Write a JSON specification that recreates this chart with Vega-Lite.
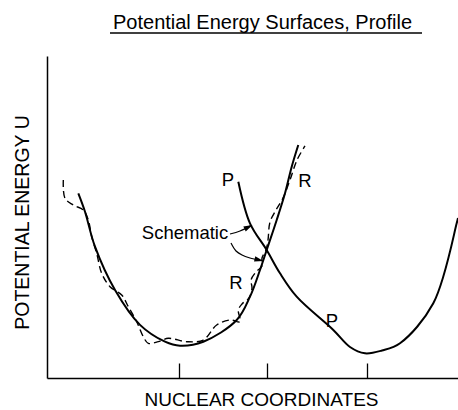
{
  "$schema": "https://vega.github.io/schema/vega-lite/v6.json",
  "width": 411,
  "height": 322,
  "autosize": {"type": "none"},
  "padding": {"left": 47, "top": 56, "right": 0, "bottom": 32},
  "background": "white",
  "title": {
    "text": "Potential Energy Surfaces, Profile",
    "font": "Liberation Sans",
    "fontSize": 20,
    "fontWeight": "normal",
    "color": "black",
    "anchor": "middle",
    "frame": "group",
    "baseline": "alphabetic",
    "offset": 6,
    "dy": 23,
    "dx": 10
  },
  "config": {
    "view": {"stroke": null},
    "axis": {
      "domainColor": "black",
      "domainWidth": 1.5,
      "grid": false,
      "labels": false,
      "titleFont": "Liberation Sans",
      "titleFontWeight": "normal",
      "titleColor": "black"
    }
  },
  "datasets": {
    "curves": [
      {"c": "R", "i": 0, "x": 0.762, "y": 4.589},
      {"c": "R", "i": 1, "x": 0.925, "y": 4.132},
      {"c": "R", "i": 2, "x": 1.168, "y": 3.262},
      {"c": "R", "i": 3, "x": 1.655, "y": 2.186},
      {"c": "R", "i": 4, "x": 2.263, "y": 1.32},
      {"c": "R", "i": 5, "x": 2.871, "y": 0.902},
      {"c": "R", "i": 6, "x": 3.236, "y": 0.803},
      {"c": "R", "i": 7, "x": 3.803, "y": 0.902},
      {"c": "R", "i": 8, "x": 4.616, "y": 1.441},
      {"c": "R", "i": 9, "x": 4.939, "y": 2.02},
      {"c": "R", "i": 10, "x": 5.182, "y": 2.683},
      {"c": "R", "i": 11, "x": 5.345, "y": 3.18},
      {"c": "R", "i": 12, "x": 5.589, "y": 3.925},
      {"c": "R", "i": 13, "x": 5.791, "y": 4.589},
      {"c": "R", "i": 14, "x": 5.954, "y": 5.25},
      {"c": "R", "i": 15, "x": 6.114, "y": 5.789},
      {"c": "P", "i": 0, "x": 4.655, "y": 4.877},
      {"c": "P", "i": 1, "x": 4.939, "y": 3.843},
      {"c": "P", "i": 2, "x": 5.345, "y": 3.18},
      {"c": "P", "i": 3, "x": 5.669, "y": 2.601},
      {"c": "P", "i": 4, "x": 6.075, "y": 2.02},
      {"c": "P", "i": 5, "x": 6.966, "y": 1.193},
      {"c": "P", "i": 6, "x": 7.372, "y": 0.77},
      {"c": "P", "i": 7, "x": 7.737, "y": 0.614},
      {"c": "P", "i": 8, "x": 8.151, "y": 0.683},
      {"c": "P", "i": 9, "x": 8.589, "y": 0.862},
      {"c": "P", "i": 10, "x": 9.399, "y": 1.856},
      {"c": "P", "i": 11, "x": 9.968, "y": 3.843},
      {"c": "P", "i": 12, "x": 10.0, "y": 3.975},
      {"c": "D", "i": 0, "x": 0.397, "y": 4.919},
      {"c": "D", "i": 1, "x": 0.438, "y": 4.464},
      {"c": "D", "i": 2, "x": 0.64, "y": 4.298},
      {"c": "D", "i": 3, "x": 0.883, "y": 4.174},
      {"c": "D", "i": 4, "x": 1.005, "y": 3.925},
      {"c": "D", "i": 5, "x": 1.088, "y": 3.51},
      {"c": "D", "i": 6, "x": 1.209, "y": 3.098},
      {"c": "D", "i": 7, "x": 1.331, "y": 2.601},
      {"c": "D", "i": 8, "x": 1.533, "y": 2.268},
      {"c": "D", "i": 9, "x": 1.818, "y": 2.062},
      {"c": "D", "i": 10, "x": 1.978, "y": 1.772},
      {"c": "D", "i": 11, "x": 2.182, "y": 1.399},
      {"c": "D", "i": 12, "x": 2.343, "y": 1.026},
      {"c": "D", "i": 13, "x": 2.465, "y": 0.862},
      {"c": "D", "i": 14, "x": 2.708, "y": 0.902},
      {"c": "D", "i": 15, "x": 2.951, "y": 0.986},
      {"c": "D", "i": 16, "x": 3.399, "y": 0.902},
      {"c": "D", "i": 17, "x": 3.803, "y": 0.944},
      {"c": "D", "i": 18, "x": 4.129, "y": 1.317},
      {"c": "D", "i": 19, "x": 4.453, "y": 1.441},
      {"c": "D", "i": 20, "x": 4.696, "y": 1.399},
      {"c": "D", "i": 21, "x": 4.655, "y": 1.689},
      {"c": "D", "i": 22, "x": 4.745, "y": 1.839},
      {"c": "D", "i": 23, "x": 4.915, "y": 1.988},
      {"c": "D", "i": 24, "x": 4.988, "y": 2.236},
      {"c": "D", "i": 25, "x": 4.964, "y": 2.435},
      {"c": "D", "i": 26, "x": 5.085, "y": 2.634},
      {"c": "D", "i": 27, "x": 5.231, "y": 2.783},
      {"c": "D", "i": 28, "x": 5.231, "y": 2.981},
      {"c": "D", "i": 29, "x": 5.328, "y": 3.18},
      {"c": "D", "i": 30, "x": 5.377, "y": 3.429},
      {"c": "D", "i": 31, "x": 5.426, "y": 3.876},
      {"c": "D", "i": 32, "x": 5.572, "y": 4.174},
      {"c": "D", "i": 33, "x": 5.742, "y": 4.472},
      {"c": "D", "i": 34, "x": 5.912, "y": 4.919},
      {"c": "D", "i": 35, "x": 6.083, "y": 5.416},
      {"c": "D", "i": 36, "x": 6.277, "y": 5.764},
      {"c": "A1", "i": 0, "x": 4.453, "y": 3.578},
      {"c": "A1", "i": 1, "x": 4.696, "y": 3.652},
      {"c": "A1", "i": 2, "x": 4.95, "y": 3.78},
      {"c": "A2", "i": 0, "x": 4.477, "y": 3.354},
      {"c": "A2", "i": 1, "x": 4.599, "y": 3.155},
      {"c": "A2", "i": 2, "x": 4.745, "y": 3.056},
      {"c": "A2", "i": 3, "x": 4.939, "y": 2.981},
      {"c": "A2", "i": 4, "x": 5.18, "y": 2.92}
    ],
    "labels": [
      {"t": "P", "x": 4.404, "y": 4.919},
      {"t": "R", "x": 6.277, "y": 4.894},
      {"t": "Schematic", "x": 3.358, "y": 3.602},
      {"t": "R", "x": 4.599, "y": 2.36},
      {"t": "P", "x": 6.934, "y": 1.416}
    ],
    "heads": [
      {"a": "A1", "x": 4.903, "y": 3.752},
      {"a": "A2", "x": 5.158, "y": 2.932}
    ]
  },
  "layer": [
    {
      "data": {"name": "curves"},
      "transform": [{"filter": "datum.c == 'R'"}],
      "mark": {"type": "line", "color": "black", "strokeWidth": 2, "interpolate": "catmull-rom"},
      "encoding": {
        "x": {
          "field": "x", "type": "quantitative",
          "scale": {"domain": [0, 10], "nice": false, "zero": false},
          "axis": {
            "title": "NUCLEAR COORDINATES",
            "titleFontSize": 19,
            "titleX": 214,
            "titleY": 27,
            "titleAlign": "center",
            "titleBaseline": "alphabetic",
            "values": [3.21, 5.35, 7.78],
            "ticks": true,
            "tickSize": -15,
            "tickColor": "black",
            "tickWidth": 1.3
          }
        },
        "y": {
          "field": "y", "type": "quantitative",
          "scale": {"domain": [0, 8], "nice": false, "zero": false},
          "axis": {
            "title": "POTENTIAL ENERGY U",
            "titleFontSize": 19.5,
            "titleX": -19,
            "titleY": 166,
            "titleAngle": -90,
            "titleAlign": "center",
            "titleBaseline": "alphabetic",
            "ticks": false,
            "values": []
          }
        },
        "order": {"field": "i", "type": "quantitative"}
      }
    },
    {
      "data": {"name": "curves"},
      "transform": [{"filter": "datum.c == 'P'"}],
      "mark": {"type": "line", "color": "black", "strokeWidth": 2, "interpolate": "catmull-rom"},
      "encoding": {
        "x": {"field": "x", "type": "quantitative"},
        "y": {"field": "y", "type": "quantitative"},
        "order": {"field": "i", "type": "quantitative"}
      }
    },
    {
      "data": {"name": "curves"},
      "transform": [{"filter": "datum.c == 'D'"}],
      "mark": {"type": "line", "color": "black", "strokeWidth": 1.4, "strokeDash": [7, 4], "interpolate": "catmull-rom"},
      "encoding": {
        "x": {"field": "x", "type": "quantitative"},
        "y": {"field": "y", "type": "quantitative"},
        "order": {"field": "i", "type": "quantitative"}
      }
    },
    {
      "data": {"name": "curves"},
      "transform": [{"filter": "datum.c == 'A1' || datum.c == 'A2'"}],
      "mark": {"type": "line", "color": "black", "strokeWidth": 1.2, "interpolate": "catmull-rom"},
      "encoding": {
        "x": {"field": "x", "type": "quantitative"},
        "y": {"field": "y", "type": "quantitative"},
        "detail": {"field": "c"},
        "order": {"field": "i", "type": "quantitative"}
      }
    },
    {
      "data": {"name": "heads"},
      "transform": [{"filter": "datum.a == 'A1'"}],
      "mark": {"type": "point", "shape": "M1,0L-1,-0.6L-1,0.6Z", "filled": true, "color": "black", "opacity": 1, "size": 80, "angle": -27},
      "encoding": {
        "x": {"field": "x", "type": "quantitative"},
        "y": {"field": "y", "type": "quantitative"}
      }
    },
    {
      "data": {"name": "heads"},
      "transform": [{"filter": "datum.a == 'A2'"}],
      "mark": {"type": "point", "shape": "M1,0L-1,-0.6L-1,0.6Z", "filled": true, "color": "black", "opacity": 1, "size": 80, "angle": 14},
      "encoding": {
        "x": {"field": "x", "type": "quantitative"},
        "y": {"field": "y", "type": "quantitative"}
      }
    },
    {
      "data": {"name": "labels"},
      "mark": {"type": "text", "font": "Liberation Sans", "fontSize": 18.5, "color": "black", "align": "center", "baseline": "middle"},
      "encoding": {
        "x": {"field": "x", "type": "quantitative"},
        "y": {"field": "y", "type": "quantitative"},
        "text": {"field": "t"}
      }
    },
    {
      "data": {"values": [{}]},
      "mark": {"type": "rule", "color": "black", "strokeWidth": 1.5},
      "encoding": {
        "x": {"datum": 1.533, "type": "quantitative"},
        "x2": {"datum": 9.124},
        "y": {"datum": 8.571, "type": "quantitative"}
      }
    }
  ]
}
